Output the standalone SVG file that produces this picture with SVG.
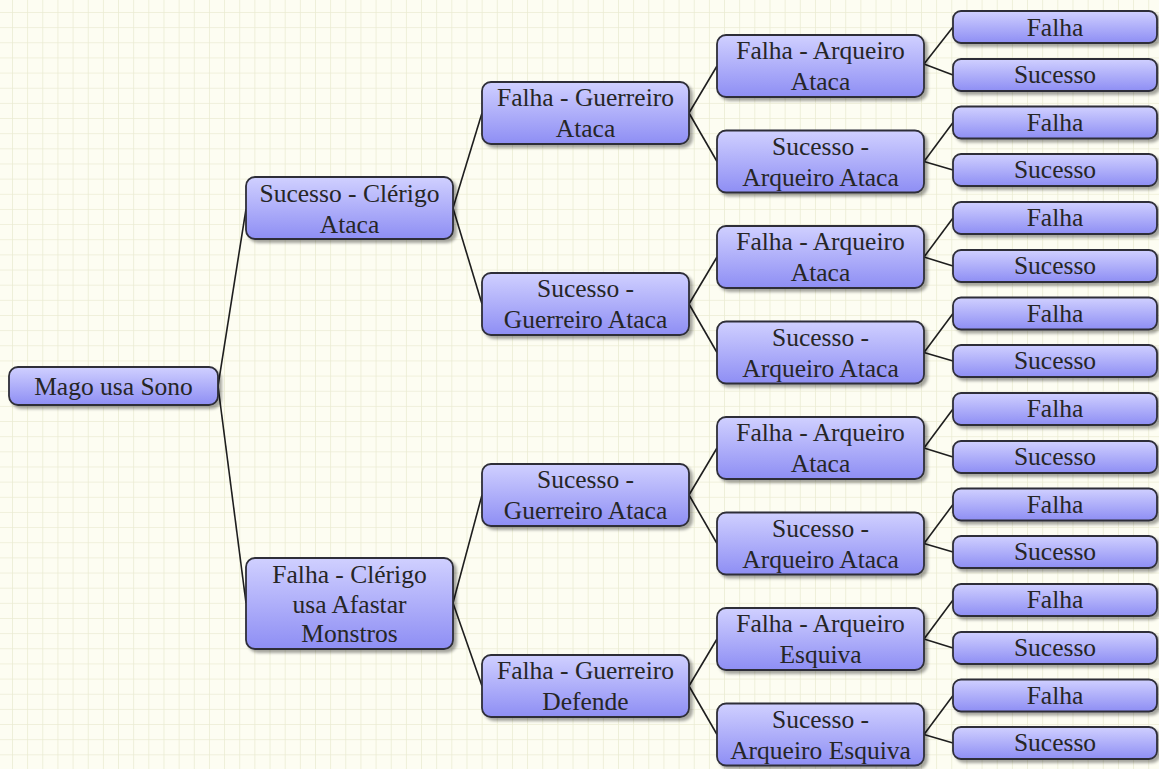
<svg xmlns="http://www.w3.org/2000/svg" width="1159" height="769" viewBox="0 0 1159 769">
<defs>
<pattern id="grid" x="12" y="12" width="15.15" height="15.15" patternUnits="userSpaceOnUse">
<path d="M0 0 H15.15 M0 0 V15.15" stroke="#ebecd3" stroke-width="1.6" fill="none"/>
</pattern>
<linearGradient id="fill" x1="0" y1="0" x2="0" y2="1">
<stop offset="0" stop-color="#d0d0ff"/>
<stop offset="1" stop-color="#8e8ef4"/>
</linearGradient>
<filter id="sh" x="-10%" y="-20%" width="130%" height="160%">
<feDropShadow dx="3" dy="3" stdDeviation="1.8" flood-color="#000" flood-opacity="0.35"/>
</filter>
</defs>
<style>
.n rect{fill:url(#fill);stroke:#2e2e38;stroke-width:1.8;filter:url(#sh)}
.n text{font-family:'Liberation Serif','Times New Roman','DejaVu Serif',serif;font-size:25.5px;fill:#262626;text-anchor:middle}
.c path{fill:none;stroke:#1e1e1e;stroke-width:1.6}
</style>
<rect width="1159" height="769" fill="#fdfdf2"/>
<rect width="1159" height="769" fill="url(#grid)"/>
<g class="c" id="connectors">
<path d="M218 386 L246 209"/>
<path d="M218 386 L246 603"/>
<path d="M453 208 L482 113"/>
<path d="M453 208 L482 304"/>
<path d="M453 603 L482 495"/>
<path d="M453 603 L482 686"/>
<path d="M689 113 L717 66"/>
<path d="M689 113 L717 161.5"/>
<path d="M689 304 L717 257"/>
<path d="M689 304 L717 352.5"/>
<path d="M689 495 L717 448"/>
<path d="M689 495 L717 543.5"/>
<path d="M689 686 L717 639"/>
<path d="M689 686 L717 734.5"/>
<path d="M924 64 L953 27"/>
<path d="M924 64 L953 75"/>
<path d="M924 161.5 L953 122.5"/>
<path d="M924 161.5 L953 170"/>
<path d="M924 257 L953 218"/>
<path d="M924 257 L953 266"/>
<path d="M924 352.5 L953 313.5"/>
<path d="M924 352.5 L953 361"/>
<path d="M924 448 L953 409"/>
<path d="M924 448 L953 457"/>
<path d="M924 543.5 L953 504.5"/>
<path d="M924 543.5 L953 552"/>
<path d="M924 639 L953 600"/>
<path d="M924 639 L953 648"/>
<path d="M924 734.5 L953 695.5"/>
<path d="M924 734.5 L953 743"/>
</g>
<g class="n" id="root"><rect x="9" y="367" width="209" height="38" rx="9"/><text x="113.5" y="394.5">Mago usa Sono</text></g>
<g class="n" id="l1a"><rect x="246" y="177" width="207" height="62" rx="9"/><text x="349.5" y="202">Sucesso - Clérigo</text><text x="349.5" y="233">Ataca</text></g>
<g class="n" id="l1b"><rect x="246" y="558" width="207" height="91" rx="9"/><text x="349.5" y="583">Falha - Clérigo</text><text x="349.5" y="613">usa Afastar</text><text x="349.5" y="642">Monstros</text></g>
<g class="n" id="l2a"><rect x="482" y="82" width="207" height="62" rx="9"/><text x="585.5" y="106">Falha - Guerreiro</text><text x="585.5" y="137">Ataca</text></g>
<g class="n" id="l2b"><rect x="482" y="273" width="207" height="62" rx="9"/><text x="585.5" y="297">Sucesso -</text><text x="585.5" y="328">Guerreiro Ataca</text></g>
<g class="n" id="l2c"><rect x="482" y="464" width="207" height="62" rx="9"/><text x="585.5" y="488">Sucesso -</text><text x="585.5" y="519">Guerreiro Ataca</text></g>
<g class="n" id="l2d"><rect x="482" y="655" width="207" height="62" rx="9"/><text x="585.5" y="679">Falha - Guerreiro</text><text x="585.5" y="710">Defende</text></g>
<g class="n" id="l3a"><rect x="717" y="35" width="207" height="62" rx="9"/><text x="820.5" y="59">Falha - Arqueiro</text><text x="820.5" y="90">Ataca</text></g>
<g class="n" id="l3b"><rect x="717" y="130.5" width="207" height="62" rx="9"/><text x="820.5" y="154.5">Sucesso -</text><text x="820.5" y="185.5">Arqueiro Ataca</text></g>
<g class="n" id="l3c"><rect x="717" y="226" width="207" height="62" rx="9"/><text x="820.5" y="250">Falha - Arqueiro</text><text x="820.5" y="281">Ataca</text></g>
<g class="n" id="l3d"><rect x="717" y="321.5" width="207" height="62" rx="9"/><text x="820.5" y="345.5">Sucesso -</text><text x="820.5" y="376.5">Arqueiro Ataca</text></g>
<g class="n" id="l3e"><rect x="717" y="417" width="207" height="62" rx="9"/><text x="820.5" y="441">Falha - Arqueiro</text><text x="820.5" y="472">Ataca</text></g>
<g class="n" id="l3f"><rect x="717" y="512.5" width="207" height="62" rx="9"/><text x="820.5" y="536.5">Sucesso -</text><text x="820.5" y="567.5">Arqueiro Ataca</text></g>
<g class="n" id="l3g"><rect x="717" y="608" width="207" height="62" rx="9"/><text x="820.5" y="632">Falha - Arqueiro</text><text x="820.5" y="663">Esquiva</text></g>
<g class="n" id="l3h"><rect x="717" y="703.5" width="207" height="62" rx="9"/><text x="820.5" y="727.5">Sucesso -</text><text x="820.5" y="758.5">Arqueiro Esquiva</text></g>
<g class="n" id="leaf1"><rect x="953" y="11" width="204" height="32" rx="8"/><text x="1055" y="35.5">Falha</text></g>
<g class="n" id="leaf2"><rect x="953" y="59" width="204" height="32" rx="8"/><text x="1055" y="83">Sucesso</text></g>
<g class="n" id="leaf3"><rect x="953" y="106.5" width="204" height="32" rx="8"/><text x="1055" y="130.5">Falha</text></g>
<g class="n" id="leaf4"><rect x="953" y="154" width="204" height="32" rx="8"/><text x="1055" y="178">Sucesso</text></g>
<g class="n" id="leaf5"><rect x="953" y="202" width="204" height="32" rx="8"/><text x="1055" y="226">Falha</text></g>
<g class="n" id="leaf6"><rect x="953" y="250" width="204" height="32" rx="8"/><text x="1055" y="274">Sucesso</text></g>
<g class="n" id="leaf7"><rect x="953" y="297.5" width="204" height="32" rx="8"/><text x="1055" y="321.5">Falha</text></g>
<g class="n" id="leaf8"><rect x="953" y="345" width="204" height="32" rx="8"/><text x="1055" y="369">Sucesso</text></g>
<g class="n" id="leaf9"><rect x="953" y="393" width="204" height="32" rx="8"/><text x="1055" y="417">Falha</text></g>
<g class="n" id="leaf10"><rect x="953" y="441" width="204" height="32" rx="8"/><text x="1055" y="465">Sucesso</text></g>
<g class="n" id="leaf11"><rect x="953" y="488.5" width="204" height="32" rx="8"/><text x="1055" y="512.5">Falha</text></g>
<g class="n" id="leaf12"><rect x="953" y="536" width="204" height="32" rx="8"/><text x="1055" y="560">Sucesso</text></g>
<g class="n" id="leaf13"><rect x="953" y="584" width="204" height="32" rx="8"/><text x="1055" y="608">Falha</text></g>
<g class="n" id="leaf14"><rect x="953" y="632" width="204" height="32" rx="8"/><text x="1055" y="656">Sucesso</text></g>
<g class="n" id="leaf15"><rect x="953" y="679.5" width="204" height="32" rx="8"/><text x="1055" y="703.5">Falha</text></g>
<g class="n" id="leaf16"><rect x="953" y="727" width="204" height="32" rx="8"/><text x="1055" y="751">Sucesso</text></g>
</svg>
